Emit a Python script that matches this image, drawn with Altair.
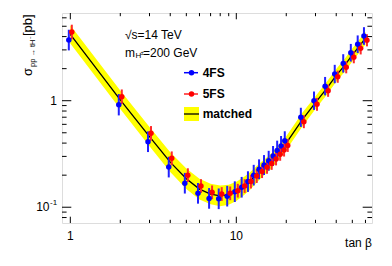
import altair as alt
import pandas as pd

# ---- data ----
tanb = [1, 2, 3, 4, 5, 6, 7, 8, 9, 10, 11, 12, 13, 14, 15, 16, 17, 18, 19, 20,
        25, 30, 35, 40, 45, 50, 55, 60]
sigma_4fs = [3.71, 0.917, 0.412, 0.238, 0.168, 0.135, 0.121, 0.120, 0.127, 0.140,
             0.154, 0.174, 0.200, 0.227, 0.249, 0.273, 0.303, 0.340, 0.376, 0.420,
             0.698, 1.00, 1.37, 1.78, 2.24, 2.82, 3.39, 4.05]
sigma_5fs = [4.42, 1.09, 0.494, 0.288, 0.200, 0.158, 0.138, 0.133, 0.135, 0.143,
             0.158, 0.174, 0.196, 0.216, 0.237, 0.258, 0.284, 0.314, 0.344, 0.380,
             0.635, 0.925, 1.24, 1.68, 2.06, 2.56, 3.10, 3.69]
sigma_matched = [4.20, 1.02, 0.460, 0.265, 0.185, 0.148, 0.133, 0.128, 0.131, 0.141,
                 0.156, 0.174, 0.197, 0.221, 0.243, 0.265, 0.293, 0.327, 0.360, 0.400,
                 0.665, 0.960, 1.30, 1.73, 2.15, 2.69, 3.24, 3.87]
band_rel = [0.22, 0.22, 0.23, 0.24, 0.25, 0.25, 0.25, 0.25, 0.24, 0.23,
            0.22, 0.21, 0.20, 0.19, 0.18, 0.18, 0.17, 0.17, 0.17, 0.16,
            0.16, 0.15, 0.15, 0.15, 0.15, 0.15, 0.15, 0.15]
err_4fs = [0.25, 0.26, 0.25, 0.25, 0.25, 0.25, 0.25, 0.25, 0.25, 0.25,
           0.25, 0.25, 0.25, 0.24, 0.24, 0.24, 0.24, 0.24, 0.24, 0.23,
           0.23, 0.22, 0.22, 0.22, 0.22, 0.21, 0.21, 0.21]
err_5fs = [0.17, 0.17, 0.17, 0.16, 0.16, 0.16, 0.16, 0.16, 0.16, 0.16,
           0.16, 0.16, 0.16, 0.15, 0.15, 0.15, 0.15, 0.15, 0.15, 0.15,
           0.15, 0.15, 0.14, 0.14, 0.14, 0.14, 0.14, 0.14]

x_major = [1, 10]
x_minor = [2, 3, 4, 5, 6, 7, 8, 9, 20, 30, 40, 50, 60]
y_major = [0.1, 1]
y_minor = [0.08, 0.09, 0.2, 0.3, 0.4, 0.5, 0.6, 0.7, 0.8, 0.9, 2, 3, 4, 5, 6]

df = pd.DataFrame({
    "t": tanb,
    "b": sigma_4fs,
    "r": sigma_5fs,
    "m": sigma_matched,
})
df["b_lo"] = [v / (1 + e) for v, e in zip(sigma_4fs, err_4fs)]
df["b_hi"] = [v * (1 + e) for v, e in zip(sigma_4fs, err_4fs)]
df["r_lo"] = [v / (1 + e) for v, e in zip(sigma_5fs, err_5fs)]
df["r_hi"] = [v * (1 + e) for v, e in zip(sigma_5fs, err_5fs)]
df["m_lo"] = [v / (1 + e) for v, e in zip(sigma_matched, band_rel)]
df["m_hi"] = [v * (1 + e) for v, e in zip(sigma_matched, band_rel)]

W, H = 310, 210
FONT = "Liberation Sans"
xs = alt.Scale(type="log", domain=[0.891, 65.7], nice=False)
ys = alt.Scale(type="log", domain=[0.0711, 6.66], nice=False)

X = alt.X("t:Q", scale=xs, axis=None)
base = alt.Chart(df)

band = base.mark_area(color="#ffff00", opacity=1).encode(
    x=X, y=alt.Y("m_lo:Q", scale=ys, axis=None), y2="m_hi:Q")
line = base.mark_line(color="black", strokeWidth=1.3).encode(
    x=X, y=alt.Y("m:Q", scale=ys, axis=None))

b_err = base.mark_rule(color="#2020ff", strokeWidth=2).encode(
    x=X, y=alt.Y("b_lo:Q", scale=ys, axis=None), y2="b_hi:Q", xOffset=alt.value(-1.5))
r_err = base.mark_rule(color="#ff2a2a", strokeWidth=2).encode(
    x=X, y=alt.Y("r_lo:Q", scale=ys, axis=None), y2="r_hi:Q", xOffset=alt.value(1.5))
b_pts = base.mark_point(filled=True, shape="circle", size=30, color="#0000ff", opacity=1).encode(
    x=X, y=alt.Y("b:Q", scale=ys, axis=None), xOffset=alt.value(-1.5))
r_pts = base.mark_point(filled=True, shape="circle", size=30, color="#ff0000", opacity=1).encode(
    x=X, y=alt.Y("r:Q", scale=ys, axis=None), xOffset=alt.value(1.5))

# ---- ROOT-style inside ticks ----
def xticks(vals, length):
    d = alt.Chart(pd.DataFrame({"v": vals}))
    bx = alt.X("v:Q", scale=xs, axis=None)
    bot = d.mark_rule(color="black", strokeWidth=1).encode(x=bx, y=alt.value(H), y2=alt.value(H - length))
    top = d.mark_rule(color="black", strokeWidth=1).encode(x=bx, y=alt.value(0), y2=alt.value(length))
    return bot + top

def yticks(vals, length):
    d = alt.Chart(pd.DataFrame({"v": vals}))
    by = alt.Y("v:Q", scale=ys, axis=None)
    left = d.mark_rule(color="black", strokeWidth=1).encode(y=by, x=alt.value(0), x2=alt.value(length))
    right = d.mark_rule(color="black", strokeWidth=1).encode(y=by, x=alt.value(W), x2=alt.value(W - length))
    return left + right

ticks = xticks(x_major, 6.3) + xticks(x_minor, 3.2) + yticks(y_major, 9.3) + yticks(y_minor, 4.6)

# ---- tick labels ----
xlab = alt.Chart(pd.DataFrame({"v": x_major, "s": ["1", "10"]})).mark_text(
    font=FONT, fontSize=12, align="center", baseline="middle", color="black").encode(
    x=alt.X("v:Q", scale=xs, axis=None), y=alt.value(223), text="s:N")
ylab1 = alt.Chart(pd.DataFrame({"v": [1], "s": ["1"]})).mark_text(
    font=FONT, fontSize=12, align="right", baseline="middle", color="black").encode(
    y=alt.Y("v:Q", scale=ys, axis=None), x=alt.value(-5), text="s:N")
ylab2 = alt.Chart(pd.DataFrame({"v": [0.1], "s": ["10"]})).mark_text(
    font=FONT, fontSize=12, align="right", baseline="middle", color="black").encode(
    y=alt.Y("v:Q", scale=ys, axis=None), x=alt.value(-12.5), text="s:N")
ylab3 = alt.Chart(pd.DataFrame({"v": [0.1], "s": ["-1"]})).mark_text(
    font=FONT, fontSize=8, align="left", baseline="middle", color="black", dy=-4).encode(
    y=alt.Y("v:Q", scale=ys, axis=None), x=alt.value(-12), text="s:N")

# ---- free texts ----
def txt(s, x, y, size=12, weight="normal", align="left", angle=0, baseline="middle"):
    kw = dict(font=FONT, fontSize=size, fontWeight=weight, align=align,
              baseline=baseline, color="black")
    if angle:
        kw["angle"] = angle
    return alt.Chart(pd.DataFrame({"s": [s]})).mark_text(**kw).encode(
        x=alt.value(x), y=alt.value(y), text="s:N")

texts = (
    txt("tan β", W, 229.7, align="right")
    + txt("σ", -34, 63, size=13, angle=270)
    + txt("pp → tH⁻", -29.5, 54, size=7.5, angle=270)
    + txt("[pb]", -34, 23, size=13, angle=270)
    + txt("√s=14 TeV", 63, 22)
    + txt("m", 63, 40)
    + txt("H", 73.5, 43, size=8)
    + txt("±", 78.5, 39.5, size=6)
    + txt("=200 GeV", 81, 40)
    + txt("4FS", 140.7, 59.7, weight="bold")
    + txt("5FS", 140.7, 81, weight="bold")
    + txt("matched", 140.7, 101, weight="bold")
)

one = pd.DataFrame({"a": [0]})
leg = (
    alt.Chart(one).mark_rule(color="#0000ff", strokeWidth=1.5).encode(
        x=alt.value(122), x2=alt.value(136), y=alt.value(59.7))
    + alt.Chart(one).mark_point(filled=True, shape="circle", size=30, color="#0000ff", opacity=1).encode(
        x=alt.value(129.5), y=alt.value(59.7))
    + alt.Chart(one).mark_rule(color="#ff2020", strokeWidth=1.5).encode(
        x=alt.value(122), x2=alt.value(136), y=alt.value(81))
    + alt.Chart(one).mark_point(filled=True, shape="circle", size=30, color="#ff0000", opacity=1).encode(
        x=alt.value(129.5), y=alt.value(81))
    + alt.Chart(one).mark_rect(color="#ffff00").encode(
        x=alt.value(122), x2=alt.value(137), y=alt.value(94), y2=alt.value(108))
    + alt.Chart(one).mark_rule(color="black", strokeWidth=1.3).encode(
        x=alt.value(122), x2=alt.value(137), y=alt.value(101))
)

chart = alt.layer(
    band, line, b_err, r_err, b_pts, r_pts, ticks, xlab, ylab1, ylab2, ylab3, texts, leg
).properties(
    width=W, height=H,
    autosize=alt.AutoSizeParams(type="none"),
    padding={"left": 54, "top": 5, "right": 12, "bottom": 35},
).configure_view(stroke="black", strokeWidth=1.2).configure(background="white")

chart.save("out.html", embed_options={"renderer": "svg", "actions": False})
